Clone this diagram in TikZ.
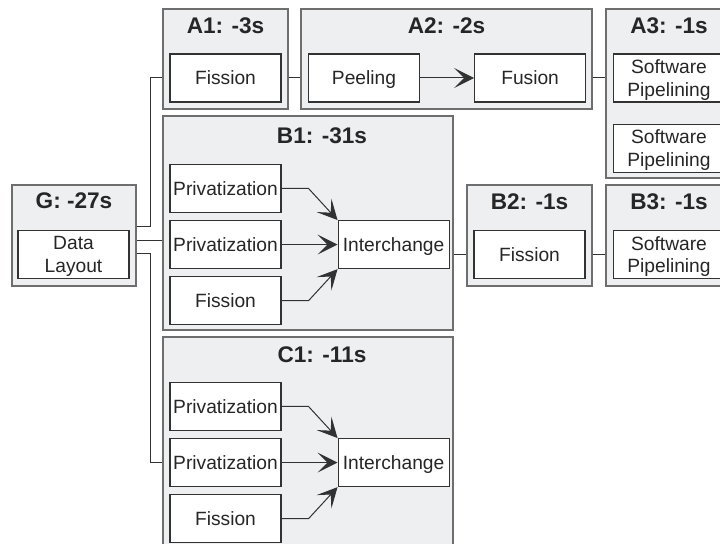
\documentclass[tikz,border=0pt]{standalone}
\usepackage{fontspec}
\setmainfont{Liberation Sans}
\usepackage{xcolor}
\usepackage{tikz}
\usetikzlibrary{arrows.meta,positioning}

\definecolor{groupfill}{RGB}{238,239,241}
\definecolor{groupline}{RGB}{110,110,110}
\definecolor{passline}{RGB}{50,50,50}

\begin{document}
\begin{tikzpicture}[x=0.5pt,y=-0.5pt,node distance=3.5pt,
		group/.style={
			% The grey stage boxes:
			rectangle,inner sep=0pt,
			% The rest
			line width=0.8pt,draw=groupline,fill=groupfill},
		pass/.style={
			% The white boxes:
			rectangle,inner sep=0pt,minimum width=55.5pt,minimum height=24pt,
			% The rest
			line width=0.55pt,draw=passline,fill=white,text=black!85,
			align=center,font=\fontsize{9.6}{11.2}\selectfont,text depth=0pt},
		title/.style={font=\fontsize{11.3}{13}\selectfont\bfseries,text=black!85},
		link/.style={draw=passline,line width=0.5pt},
		flow/.style={link,-{Stealth[length=10pt,width=10pt,inset=5pt]}}]
	\useasboundingbox (0,0) rectangle (720,544);
	\clip (0,0) rectangle (720,544);

	% stages
	\node (g)	[group,minimum width=62pt,minimum height=50.5pt]	at (74,235.5) {};
	\node (a1)	[group,minimum width=62.5pt,minimum height=50pt]	at (225.5,59) {};
	\node (a2)	[group,minimum width=145.5pt,minimum height=50pt]	at (446.5,59) {};
	\node (a3)	[group,minimum width=63pt,minimum height=84.5pt]	at (669,93.5) {};
	\node (b1)	[group,minimum width=145pt,minimum height=107pt]	at (308,223) {};
	\node (b2)	[group,minimum width=62.5pt,minimum height=50.5pt]	at (529.5,235.5) {};
	\node (b3)	[group,minimum width=63pt,minimum height=50.5pt]	at (669,235.5) {};
	\node (c1)	[group,minimum width=145pt,minimum height=105.5pt]	at (308,442.5) {};

	% titles
	\node (gt)	[title] at (74,201)    {G: -27s};
	\node (a1t)	[title] at (225.5,26)  {A1: -3s};
	\node (a2t)	[title] at (446.5,26)  {A2: -2s};
	\node (a3t)	[title] at (669,26)    {A3: -1s};
	\node (b1t)	[title] at (322,136)   {B1: -31s};
	\node (b2t)	[title] at (529.5,201.5) {B2: -1s};
	\node (b3t)	[title] at (669,201.5) {B3: -1s};
	\node (c1t)	[title] at (322,354.5) {C1: -11s};

	% passes
	\node (gdl)		[pass] at (73.5,254.5) {Data\\Layout};
	\node (a1fis)	[pass] at (225.5,78)   {Fission};
	\node (a2pee)	[pass] at (364,78)     {Peeling};
	\node (a2fus)	[pass, right=27pt of a2pee] {Fusion};
	\node (a3sp1)	[pass] at (669,78)     {Software\\Pipelining};
	\node (a3sp2)	[pass, below=10.5pt of a3sp1] {Software\\Pipelining};
	\node (b1pv1)	[pass] at (225.5,188.5) {Privatization};
	\node (b1pv2)	[pass, below=of b1pv1] {Privatization};
	\node (b1fis)	[pass, below=of b1pv2] {Fission};
	\node (b1int)	[pass, right=28pt of b1pv2] {Interchange};
	\node (b2fis)	[pass] at (529.5,254.5) {Fission};
	\node (b3sp)	[pass] at (669,254.5)   {Software\\Pipelining};
	\node (c1pv1)	[pass] at (225.5,406.5) {Privatization};
	\node (c1pv2)	[pass, below=of c1pv1] {Privatization};
	\node (c1fis)	[pass, below=of c1pv2] {Fission};
	\node (c1int)	[pass, right=28pt of c1pv2] {Interchange};

	% links between stages
	\coordinate (ga) at ([yshift=4.25pt]g.east);
	\coordinate (gb) at ([yshift=-2.75pt]g.east);
	\coordinate (gc) at ([yshift=-9.25pt]g.east);
	\draw[link] (ga) -- ++(7pt,0) |- (a1fis -| a1.west);
	\draw[link] (gb) -- (gb -| b1.west);
	\draw[link] (gc) -- ++(7pt,0) |- (c1pv2 -| c1.west);
	\draw[link] (a1.east |- a1fis) -- (a2.west |- a1fis);
	\draw[link] (a2.east |- a2fus) -- (a3.west |- a2fus);
	\draw[link] (b1.east |- b2fis) -- (b2.west |- b2fis);
	\draw[link] (b2.east |- b2fis) -- (b3.west |- b2fis);

	% flows inside stages
	\draw[flow] (a2pee) -- (a2fus);
	\draw[flow] (b1pv1.east) -- ++(13.5pt,0) -- (b1int.north west);
	\draw[flow] (b1pv2) -- (b1int);
	\draw[flow] (b1fis.east) -- ++(13.5pt,0) -- (b1int.south west);
	\draw[flow] (c1pv1.east) -- ++(13.5pt,0) -- (c1int.north west);
	\draw[flow] (c1pv2) -- (c1int);
	\draw[flow] (c1fis.east) -- ++(13.5pt,0) -- (c1int.south west);
\end{tikzpicture}
\end{document}
